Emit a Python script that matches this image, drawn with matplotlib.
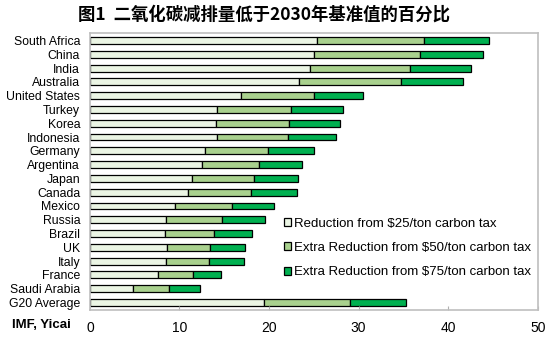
import matplotlib.pyplot as plt
import numpy as np

plt.rcParams['font.family'] = ['Liberation Sans', 'Noto Sans CJK SC', 'DejaVu Sans']

countries = ["South Africa", "China", "India", "Australia", "United States", "Turkey",
             "Korea", "Indonesia", "Germany", "Argentina", "Japan", "Canada", "Mexico",
             "Russia", "Brazil", "UK", "Italy", "France", "Saudi Arabia", "G20 Average"]
# cumulative totals
cum25 = [25.4, 25.0, 24.6, 23.3, 16.9, 14.2, 14.1, 14.2, 12.8, 12.5, 11.4, 11.0, 9.5,
         8.5, 8.4, 8.6, 8.5, 7.6, 4.8, 19.4]
cum50 = [37.3, 36.8, 35.7, 34.7, 25.0, 22.4, 22.2, 22.1, 19.9, 18.9, 18.3, 18.0, 15.9,
         14.8, 13.9, 13.4, 13.3, 11.5, 8.8, 29.0]
cum75 = [44.5, 43.9, 42.5, 41.7, 30.5, 28.3, 27.9, 27.5, 25.0, 23.7, 23.2, 23.1, 20.6,
         19.6, 18.1, 17.3, 17.2, 14.6, 12.3, 35.3]

labels = ["Reduction from $25/ton carbon tax",
          "Extra Reduction from $50/ton carbon tax",
          "Extra Reduction from $75/ton carbon tax"]
colors = ["#ebf5e4", "#a9d18e", "#00b050"]

c25 = np.array(cum25)
c50 = np.array(cum50)
c75 = np.array(cum75)
y = np.arange(len(countries))

fig = plt.figure(figsize=(5.55, 3.43), dpi=100)
ax = fig.add_axes([0.162, 0.096, 0.807, 0.808])

kw = dict(height=0.5, edgecolor="black", linewidth=0.9)
ax.barh(y, c25, color=colors[0], label=labels[0], **kw)
ax.barh(y, c50 - c25, left=c25, color=colors[1], label=labels[1], **kw)
ax.barh(y, c75 - c50, left=c50, color=colors[2], label=labels[2], **kw)

ax.set_yticks(y)
ax.set_yticklabels(countries, fontsize=8.8)
ax.set_ylim(len(countries) - 0.45, -0.55)
ax.set_xlim(0, 50)
ax.set_xticks([0, 10, 20, 30, 40, 50])
ax.tick_params(axis='x', direction='in', length=3, labelsize=10, color='#b0b0b0', pad=8)
ax.tick_params(axis='y', length=0, pad=7)
for s in ax.spines.values():
    s.set_color('#bfbfbf')
    s.set_linewidth(1.2)

leg = ax.legend(loc='lower right', bbox_to_anchor=(0.985, 0.115), frameon=False, fontsize=9.5,
                handlelength=0.55, handleheight=0.55, handletextpad=0.25, labelspacing=0.92,
                borderaxespad=0.0, borderpad=0.0)

fig.text(0.022, 0.052, "IMF, Yicai", fontsize=9.5, fontweight='bold', va='center')
fig.text(0.475, 0.958, "图1  二氧化碳减排量低于2030年基准值的百分比", fontsize=12.5,
         fontweight='bold', ha='center', va='center',
         family=['Noto Sans CJK SC', 'DejaVu Sans'])

fig.savefig("out.png", dpi=100)
